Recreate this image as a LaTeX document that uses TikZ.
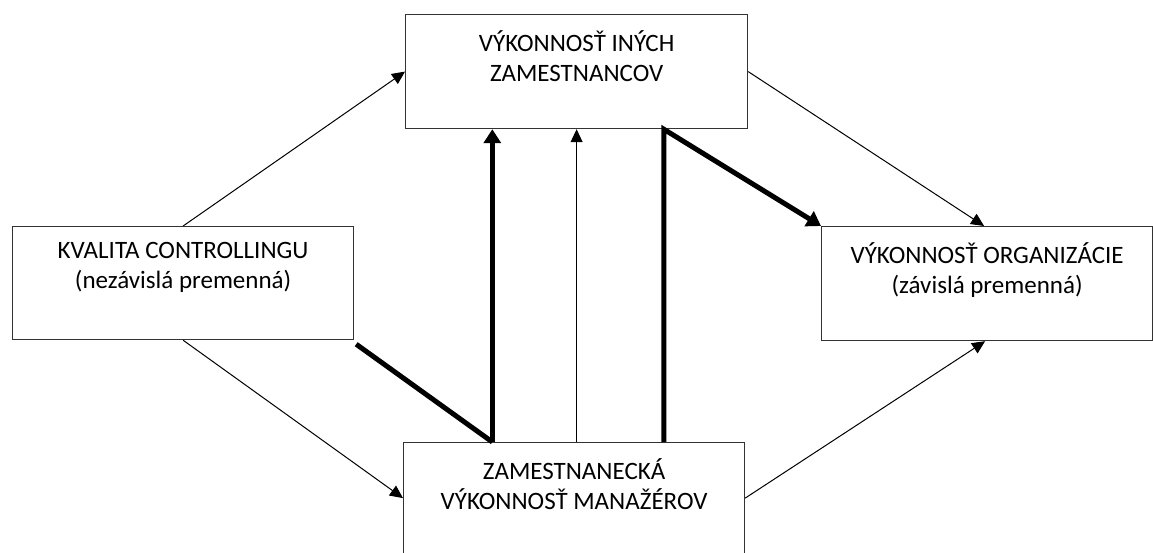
\documentclass[tikz,border=0pt]{standalone}
\usepackage{fontspec}
\setmainfont{Carlito}
\usetikzlibrary{arrows.meta,calc}
\begin{document}
\begin{tikzpicture}[x=1pt,y=-1pt,
  box/.style={draw=black!80,line width=1.2pt,rectangle,inner sep=0pt,anchor=north west},
  txt/.style={anchor=north,align=center,inner sep=0pt,font=\fontsize{25}{30}\selectfont},
  thin/.style={line width=1pt,-{Triangle[length=13pt,width=12pt]}},
  thick/.style={line width=5pt},
  thickarr/.style={line width=5pt,-{Triangle[length=14pt,width=17pt]}}]
\useasboundingbox (0,0) rectangle (1153,552);
\node[box,minimum width=342pt,minimum height=114pt] (T) at (405,14) {};
\node[box,minimum width=341pt,minimum height=113pt] (L) at (12,226) {};
\node[box,minimum width=331pt,minimum height=114pt] (R) at (821,226) {};
\node[box,minimum width=341pt,minimum height=111pt] (B) at (403,442) {};
\node[txt] (Tt) at ($(T.north)+(0,16)$) {VÝKONNOSŤ INÝCH\\ZAMESTNANCOV};
\node[txt] (Lt) at ($(L.north)+(0,16)$) {KVALITA CONTROLLINGU\\(nezávislá premenná)};
\node[txt] (Rt) at ($(R.north)+(0,16)$) {VÝKONNOSŤ ORGANIZÁCIE\\(závislá premenná)};
\node[txt] (Bt) at ($(B.north)+(0,16)$) {ZAMESTNANECKÁ\\VÝKONNOSŤ MANAŽÉROV};
\coordinate (b1) at ($(B.north west)!0.261!(B.north east)$);
\coordinate (b2) at ($(B.north west)!0.762!(B.north east)$);
\coordinate (l1) at ($(L.south east)+(2,4)$);
% thin arrows
\draw[thin] (L.north) -- (T.west);
\draw[thin] (L.south) -- (B.west);
\draw[thin] (T.east) -- ($(R.north)+(-3,0)$);
\draw[thin] (B.east) -- ($(R.south)+(-2,0)$);
\draw[thin] (B.north -| T.south) -- (T.south);
% thick lines
\draw[thick] (l1) -- (b1);
\draw[thickarr] (b1) -- (b1 |- T.south);
\draw[thickarr,line join=miter] (b2) -- (b2 |- T.south) -- (R.north west);
\end{tikzpicture}
\end{document}
